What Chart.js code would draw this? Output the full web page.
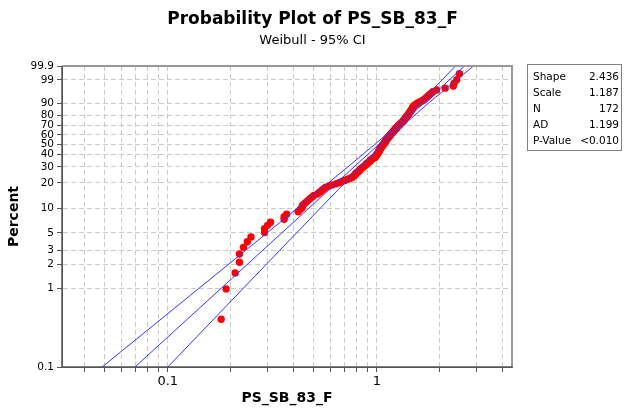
<!DOCTYPE html>
<html>
<head>
<meta charset="utf-8">
<script src="https://cdn.jsdelivr.net/npm/chart.js@4.4.1/dist/chart.umd.min.js"></script>
<style>
  html, body { margin: 0; padding: 0; background: #fff; }
  #wrap { position: relative; width: 625px; height: 408px; font-family: 'DejaVu Sans', Verdana, sans-serif; color: #000; }
  #plot { position: absolute; left: 0; top: 0; }
  .ttl { position: absolute; left: 0; width: 625px; text-align: center; white-space: nowrap; }
  #t1 { top: 8px; font-size: 17px; font-weight: bold; }
  #t2 { top: 32px; font-size: 13px; }
  #stats { position: absolute; left: 527px; top: 64px; width: 95px; height: 87px; border: 1px solid #808080;
           box-sizing: border-box; padding-top: 3px; font-size: 10.5px; }
  #stats div { display: flex; justify-content: space-between; height: 16px; line-height: 16px; padding: 0 2px 0 5px; }
</style>
</head>
<body>
<div id="wrap">
  <canvas id="plot" width="625" height="408"></canvas>
  <div class="ttl" id="t1">Probability Plot of PS_SB_83_F</div>
  <div class="ttl" id="t2">Weibull - 95% CI</div>
  <div id="stats">
    <div><span>Shape</span><span>2.436</span></div>
    <div><span>Scale</span><span>1.187</span></div>
    <div><span>N</span><span>172</span></div>
    <div><span>AD</span><span>1.199</span></div>
    <div><span>P-Value</span><span>&lt;0.010</span></div>
  </div>
</div>
<script>
/* ---- data ---- */
const shape = 2.436;
const scale = 1.187;

// sorted sample values, rank 1..172
const xs = [
  0.18, 0.19, 0.21, 0.22, 0.22, 0.23, 0.24, 0.25, 0.29, 0.29,
  0.30, 0.31, 0.36, 0.36, 0.37, 0.42, 0.43, 0.44, 0.44, 0.45,
  0.46, 0.47, 0.48, 0.49, 0.50, 0.52, 0.53, 0.54, 0.55, 0.56,
  0.57, 0.59, 0.61, 0.64, 0.66, 0.68, 0.70, 0.72, 0.74, 0.76,
  0.77, 0.78, 0.79, 0.79, 0.80, 0.81, 0.82, 0.83, 0.83, 0.84,
  0.85, 0.86, 0.87, 0.88, 0.89, 0.89, 0.90, 0.91, 0.92, 0.93,
  0.93, 0.94, 0.95, 0.96, 0.98, 0.98, 0.99, 0.99, 1.00, 1.00,
  1.01, 1.01, 1.02, 1.02, 1.02, 1.03, 1.03, 1.03, 1.04, 1.04,
  1.05, 1.05, 1.06, 1.06, 1.07, 1.07, 1.08, 1.08, 1.09, 1.09,
  1.10, 1.10, 1.10, 1.11, 1.11, 1.12, 1.12, 1.13, 1.13, 1.14,
  1.14, 1.15, 1.16, 1.16, 1.17, 1.17, 1.18, 1.19, 1.19, 1.20,
  1.20, 1.21, 1.22, 1.22, 1.23, 1.24, 1.24, 1.25, 1.26, 1.26,
  1.27, 1.28, 1.29, 1.29, 1.30, 1.31, 1.32, 1.33, 1.34, 1.34,
  1.35, 1.36, 1.36, 1.37, 1.38, 1.38, 1.39, 1.40, 1.41, 1.41,
  1.42, 1.43, 1.43, 1.44, 1.45, 1.45, 1.46, 1.47, 1.48, 1.48,
  1.49, 1.50, 1.51, 1.53, 1.55, 1.57, 1.60, 1.63, 1.66, 1.69,
  1.71, 1.74, 1.76, 1.79, 1.82, 1.85, 1.93,
  2.12, 2.32, 2.34, 2.41, 2.48
];

// 95% CI band, read at these percents
const ciPct   = [0.1,    1,      3,      10,     30,     50,     63.2,  90,    99,    99.9];
const ciLeft  = [0.0485, 0.1407, 0.2346, 0.4154, 0.7259, 0.9786, 1.146, 1.590, 2.051, 2.377];
const ciRight = [0.100,  0.2293, 0.3418, 0.5348, 0.8325, 1.066,  1.229, 1.758, 2.407, 2.897];

const pctTicks = [0.1, 1, 2, 3, 5, 10, 20, 30, 40, 50, 60, 70, 80, 90, 99, 99.9];
const xTicks   = [0.04, 0.05, 0.06, 0.07, 0.08, 0.09, 0.1, 0.2, 0.3, 0.4, 0.5, 0.6, 0.7, 0.8, 0.9, 1, 2, 3, 4];
const xLabeled = [0.1, 1];

/* ---- weibull probability scale ---- */
const wb = p => Math.log(-Math.log(1 - p / 100));
const n = xs.length;
const medRank = xs.map((_, i) => (i + 1 - 0.3) / (n + 0.4) * 100);   // Benard positions
const fitX = p => scale * Math.pow(-Math.log(1 - p / 100), 1 / shape);

const BLUE = '#3535ff';
const GRID = '#c9c9c9';
const TXT  = '#000';

const frame = {
  id: 'frame',
  afterDraw(c) {
    const a = c.chartArea, ctx = c.ctx;
    ctx.save();
    ctx.strokeStyle = '#999';
    ctx.lineWidth = 2;
    ctx.beginPath();
    ctx.moveTo(a.left, a.top); ctx.lineTo(a.right, a.top); ctx.lineTo(a.right, a.bottom);
    ctx.stroke();
    ctx.strokeStyle = '#555';
    ctx.lineWidth = 1.5;
    ctx.beginPath();
    ctx.moveTo(a.left, a.top); ctx.lineTo(a.left, a.bottom); ctx.lineTo(a.right, a.bottom);
    ctx.stroke();
    ctx.restore();
  }
};

const lineDs = (data) => ({
  type: 'scatter', data, showLine: true, borderColor: BLUE, borderWidth: 1,
  pointRadius: 0, fill: false
});

new Chart(document.getElementById('plot'), {
  type: 'scatter',
  data: {
    datasets: [
      lineDs([0.1, 99.9].map(p => ({ x: fitX(p), y: wb(p) }))),
      lineDs(ciPct.map((p, i) => ({ x: ciLeft[i], y: wb(p) }))),
      lineDs(ciPct.map((p, i) => ({ x: ciRight[i], y: wb(p) }))),
      {
        data: xs.map((x, i) => ({ x, y: wb(medRank[i]) })),
        backgroundColor: '#ff0000', borderWidth: 0, pointRadius: 3.7
      }
    ]
  },
  options: {
    responsive: false,
    animation: false,
    devicePixelRatio: 1,
    layout: { padding: { top: 66, right: 113, left: 0, bottom: 0 } },
    plugins: { legend: { display: false }, tooltip: { enabled: false } },
    scales: {
      x: {
        type: 'logarithmic',
        min: 0.0312, max: 4.425,
        afterBuildTicks: s => { s.ticks = xTicks.map(v => ({ value: v })); },
        afterFit: s => { s.height = 41; },
        grid: { color: GRID, tickLength: 5, tickColor: '#555', drawTicks: true },
        border: { dash: [5, 3], color: '#555' },
        ticks: {
          autoSkip: false, maxRotation: 0, padding: 2, color: TXT,
          font: { family: 'DejaVu Sans', size: 13 },
          callback: v => xLabeled.includes(v) ? String(v) : ''
        },
        title: {
          display: true, text: 'PS_SB_83_F', color: TXT,
          font: { family: 'DejaVu Sans', size: 14, weight: 'bold' },
          padding: { top: 0, bottom: 1 }
        }
      },
      y: {
        type: 'linear',
        min: wb(0.1), max: wb(99.9),
        afterBuildTicks: s => { s.ticks = pctTicks.map(p => ({ value: wb(p) })); },
        afterFit: s => { s.width = 62; },
        grid: { color: GRID, tickLength: 5, tickColor: '#555' },
        border: { dash: [5, 3], color: '#555' },
        ticks: {
          autoSkip: false, padding: 3, color: TXT,
          font: { family: 'DejaVu Sans', size: 10.5 },
          callback: (v, i) => String(pctTicks[i])
        },
        title: {
          display: true, text: 'Percent', color: TXT,
          font: { family: 'DejaVu Sans', size: 14, weight: 'bold' },
          padding: { top: 6, bottom: 0 }
        }
      }
    }
  },
  plugins: [frame]
});
</script>
</body>
</html>
